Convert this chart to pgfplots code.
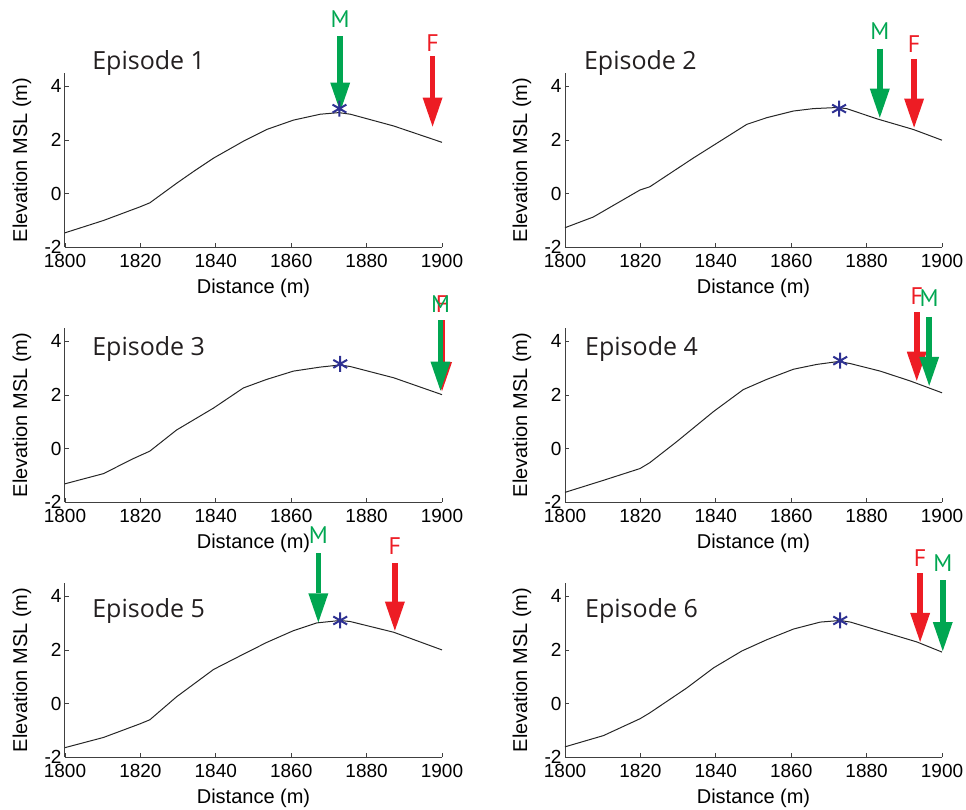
\documentclass[border=0pt]{standalone}
\usepackage{pgfplots}
\pgfplotsset{compat=1.18}
\usepackage{fontspec}
\setmainfont{Liberation Sans}
\newfontfamily\epifont{PT Sans}
\newfontfamily\titfont{Open Sans}
\usetikzlibrary{arrows.meta}
\definecolor{mgreen}{RGB}{0,166,81}
\definecolor{fred}{RGB}{237,28,36}
\definecolor{sblue}{RGB}{46,49,146}
\definecolor{txt}{RGB}{35,31,32}

\pgfplotsset{
 panel/.style={
  scale only axis, width=377pt, height=174pt,
  xmin=1800,xmax=1900,ymin=-2,ymax=4.5,
  xtick={1800,1820,...,1900}, ytick={-2,0,2,4},
  axis x line*=bottom, axis y line*=left,
  axis line style={line width=1pt, black!75, -},
  tick style={line width=0.8pt, black!75},
  tick align=inside, major tick length=4pt,
  /pgf/number format/1000 sep={},
  /pgf/number format/assume math mode=true,
  tick label style={font=\fontsize{19}{22}\selectfont},
  xticklabel style={yshift=-4pt},
  xlabel={Distance (m)}, ylabel={Elevation MSL (m)},
  label style={font=\fontsize{20}{24}\selectfont},
  xlabel style={at={(axis description cs:0.5,-0.236)}, anchor=center},
  ylabel style={at={(axis description cs:-0.114,0.5)}, anchor=center},
  clip=false,
 },
 prof/.style={black!85, line width=1pt, no markers},
 star/.style={only marks, mark=asterisk, mark size=8pt, sblue, line width=2pt},
}
\newcommand\arr[6]{%
 \draw[#1, line width=5.5pt, -{Triangle[width=20pt,length=29pt,line width=0pt]}] (axis cs:#2,#3) -- (axis cs:#2,#4);
 \node[#1, anchor=base, font=\epifont\fontsize{24}{28}\selectfont, inner sep=0pt] at (axis cs:#2,#5) {#6};}
\newcommand\epi[3]{\node[txt, anchor=base west, font=\titfont\fontsize{25}{30}\selectfont, inner sep=0pt] at (axis cs:#1,#2) {#3};}

\begin{document}
\begin{tikzpicture}
\useasboundingbox (0pt,-810pt) rectangle (966pt,0pt);

% Episode 1
\begin{axis}[panel, at={(65pt,-247pt)}, anchor=south west]
\addplot[prof] coordinates {(1800,-1.47) (1810.2,-1.01) (1819.9,-0.5) (1822.5,-0.35) (1829.6,0.38) (1834.5,0.86) (1839.4,1.32) (1847.3,1.95) (1853.5,2.39) (1860.6,2.74) (1867.7,2.96) (1872.6,3.02) (1875.7,2.96) (1887.2,2.52) (1900,1.91)};
\addplot[star] coordinates {(1872.8,3.17)};
\epi{1807.2}{4.64}{Episode 1}
\arr{mgreen}{1873}{5.87}{3.06}{6.21}{M}
\arr{fred}{1897.5}{5.12}{2.5}{5.31}{F}
\end{axis}

% Episode 2
\begin{axis}[panel, at={(565pt,-247pt)}, anchor=south west]
\addplot[prof] coordinates {(1800,-1.28) (1807.5,-0.88) (1819.9,0.13) (1822.5,0.25) (1834,1.32) (1841.1,1.95) (1848.2,2.58) (1853.5,2.83) (1860.6,3.08) (1865.9,3.17) (1872.1,3.21) (1874.7,3.17) (1882.7,2.79) (1892.4,2.39) (1900,1.99)};
\addplot[star] coordinates {(1872.7,3.17)};
\epi{1805}{4.64}{Episode 2}
\arr{mgreen}{1883.5}{5.41}{2.83}{5.76}{M}
\arr{fred}{1892.6}{5.03}{2.46}{5.28}{F}
\end{axis}

% Episode 3
\begin{axis}[panel, at={(65pt,-502pt)}, anchor=south west]
\addplot[prof] coordinates {(1800,-1.32) (1810.2,-0.94) (1818.1,-0.38) (1822.5,-0.1) (1829.6,0.69) (1839.4,1.51) (1847.3,2.26) (1853.5,2.58) (1860.6,2.89) (1867.7,3.04) (1873,3.12) (1875.7,3.06) (1887.2,2.64) (1900,2.01)};
\addplot[star] coordinates {(1873,3.16)};
\epi{1807.2}{3.47}{Episode 3}
\arr{fred}{1900}{4.79}{2.14}{5.08}{F}
\arr{mgreen}{1899.6}{4.79}{2.16}{5.08}{M}
\end{axis}

% Episode 4
\begin{axis}[panel, at={(565pt,-502pt)}, anchor=south west]
\addplot[prof] coordinates {(1800,-1.64) (1810.2,-1.19) (1819.9,-0.75) (1822.5,-0.53) (1829.6,0.25) (1839.4,1.38) (1847.3,2.2) (1853.5,2.58) (1860.6,2.96) (1866.8,3.14) (1872.6,3.25) (1875.7,3.17) (1883.6,2.89) (1891.6,2.52) (1900,2.08)};
\addplot[star] coordinates {(1873,3.28)};
\epi{1805.3}{3.47}{Episode 4}
\arr{fred}{1893.3}{5.08}{2.53}{5.36}{F}
\arr{mgreen}{1896.6}{4.92}{2.34}{5.29}{M}
\end{axis}

% Episode 5
\begin{axis}[panel, at={(65pt,-757pt)}, anchor=south west]
\addplot[prof] coordinates {(1800,-1.65) (1810.2,-1.27) (1819.9,-0.76) (1822.5,-0.61) (1829.6,0.25) (1839.4,1.27) (1847.3,1.84) (1853.5,2.28) (1860.6,2.72) (1866.8,3.01) (1873,3.1) (1875.7,3.06) (1887.2,2.66) (1900,2.0)};
\addplot[star] coordinates {(1873,3.1)};
\epi{1807.2}{3.21}{Episode 5}
\arr{mgreen}{1867.2}{5.61}{3.03}{5.99}{M}
\arr{fred}{1887.5}{5.23}{2.72}{5.55}{F}
\end{axis}

% Episode 6
\begin{axis}[panel, at={(565pt,-757pt)}, anchor=south west]
\addplot[prof] coordinates {(1800,-1.62) (1810.2,-1.2) (1819.9,-0.57) (1822.5,-0.35) (1832.2,0.57) (1839.4,1.33) (1846.9,1.96) (1853.5,2.38) (1860.6,2.78) (1867.7,3.04) (1873,3.1) (1875.7,3.04) (1893.3,2.3) (1900,1.92)};
\addplot[star] coordinates {(1873,3.1)};
\epi{1805.3}{3.21}{Episode 6}
\arr{fred}{1894.2}{4.86}{2.3}{5.11}{F}
\arr{mgreen}{1900.2}{4.6}{1.96}{4.92}{M}
\end{axis}
\end{tikzpicture}
\end{document}
